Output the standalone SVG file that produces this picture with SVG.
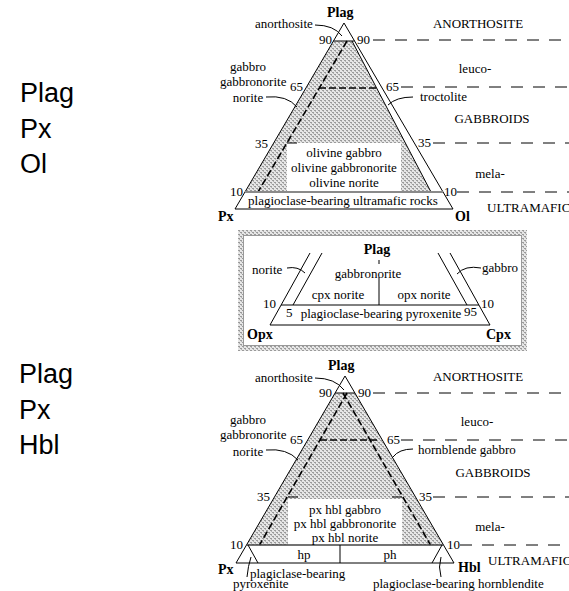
<svg xmlns="http://www.w3.org/2000/svg" width="569" height="591" viewBox="0 0 569 591">
<defs>
<pattern id="hatch" patternUnits="userSpaceOnUse" width="4" height="4">
<rect width="4" height="4" fill="#e6e6e6"/>
<rect x="0" y="0" width="2" height="1" fill="#9a9a9a"/>
<rect x="2" y="2" width="2" height="1" fill="#9a9a9a"/>
<rect x="1" y="1" width="1" height="1" fill="#b4b4b4"/>
<rect x="3" y="3" width="1" height="1" fill="#b4b4b4"/>
</pattern>
<style>
.t{font-family:"Liberation Serif","Times New Roman",serif;font-size:13px;fill:#000}
.b{font-family:"Liberation Serif","Times New Roman",serif;font-size:14px;font-weight:bold;fill:#000}
.s{font-family:"Liberation Sans",Arial,sans-serif;font-size:27px;fill:#000}
.m{text-anchor:middle}
.e{text-anchor:end}
.ln{stroke:#000;stroke-width:1;fill:none}
.dr{stroke:#000;stroke-width:1;fill:none;stroke-dasharray:12 10}
.di{stroke:#000;stroke-width:1.6;fill:none;stroke-dasharray:7 3}
.gl{stroke:#8a8a8a;stroke-width:2;fill:none}
</style>
</defs>
<rect width="569" height="591" fill="#fff"/>

<g id="labels-left">
<text class="s" x="20" y="102">Plag</text>
<text class="s" x="20" y="138">Px</text>
<text class="s" x="20" y="173">Ol</text>
<text class="s" x="19" y="383">Plag</text>
<text class="s" x="19" y="419">Px</text>
<text class="s" x="19" y="454">Hbl</text>
</g>

<g id="diagram-plag-px-ol">
<path d="M333.5,41 L352,41 L431,192 L245,192 Z" fill="url(#hatch)"/>
<rect x="287" y="143" width="114" height="49" fill="#fff"/>
<path class="ln" d="M344,23 L235,209 L453,209 Z"/>
<line class="ln" x1="333.5" y1="41" x2="354.5" y2="41"/>
<line class="ln" x1="352" y1="41" x2="431" y2="192"/>
<line class="di" x1="347" y1="41" x2="258" y2="192"/>
<line class="di" x1="319" y1="88" x2="377" y2="88"/>
<line class="ln" x1="287" y1="143" x2="297" y2="143"/>
<line class="gl" x1="245" y1="192" x2="443" y2="192"/>
<line class="dr" x1="373" y1="40" x2="569" y2="40"/>
<line class="dr" x1="401" y1="87" x2="569" y2="87"/>
<line class="dr" x1="433" y1="143" x2="569" y2="143"/>
<line class="dr" x1="457" y1="192" x2="569" y2="192"/>
<text class="b" x="327" y="17">Plag</text>
<text class="t" x="255" y="28">anorthosite</text>
<text class="t e" x="332" y="44">90</text>
<text class="t" x="357" y="44">90</text>
<text class="t m" x="248" y="71">gabbro</text>
<text class="t" x="220" y="86">gabbronorite</text>
<text class="t" x="290" y="91">65</text>
<text class="t m" x="248" y="102">norite</text>
<text class="t e" x="268" y="148">35</text>
<text class="t e" x="243" y="196">10</text>
<text class="t m" x="344" y="157">olivine gabbro</text>
<text class="t m" x="344" y="172">olivine gabbronorite</text>
<text class="t m" x="344" y="187">olivine norite</text>
<text class="t m" x="343" y="205">plagioclase-bearing ultramafic rocks</text>
<text class="b" x="218" y="221">Px</text>
<text class="b" x="455" y="221">Ol</text>
<text class="t" x="386" y="91">65</text>
<text class="t" x="418" y="147">35</text>
<text class="t" x="444" y="196">10</text>
<text class="t m" x="478" y="28">ANORTHOSITE</text>
<text class="t m" x="475" y="73">leuco-</text>
<text class="t" x="420" y="101">troctolite</text>
<text class="t m" x="492" y="123">GABBROIDS</text>
<text class="t m" x="490" y="178">mela-</text>
<text class="t" x="487" y="212">ULTRAMAFIC</text>
</g>

<g id="inset-plag-opx-cpx">
<rect x="240.5" y="232.5" width="284" height="116" fill="none" stroke="url(#hatch)" stroke-width="5"/>
<rect x="243.5" y="235.5" width="278" height="110" fill="none" stroke="#999" stroke-width="1"/>
<line class="ln" x1="270" y1="325" x2="490" y2="325"/>
<line class="ln" x1="270" y1="325" x2="310" y2="253"/>
<line class="ln" x1="293" y1="305" x2="322" y2="253"/>
<line class="ln" x1="490" y1="325" x2="450" y2="253"/>
<line class="ln" x1="467" y1="305" x2="438" y2="253"/>
<line class="ln" x1="281" y1="305" x2="479" y2="305"/>
<line class="ln" x1="379" y1="277" x2="379" y2="305"/>
<line class="ln" x1="379" y1="260" x2="379" y2="264"/>
<text class="b m" x="377" y="254">Plag</text>
<text class="t m" x="368" y="278">gabbronorite</text>
<text class="t m" x="338" y="299">cpx norite</text>
<text class="t m" x="424" y="299">opx norite</text>
<text class="t m" x="381" y="318">plagioclase-bearing pyroxenite</text>
<text class="t" x="252" y="274">norite</text>
<text class="t" x="482" y="272">gabbro</text>
<text class="t e" x="276" y="308">10</text>
<text class="t" x="286" y="317">5</text>
<text class="t" x="464" y="316">95</text>
<text class="t" x="481" y="308">10</text>
<text class="b" x="247" y="339">Opx</text>
<text class="b" x="486" y="339">Cpx</text>
</g>

<g id="diagram-plag-px-hbl">
<path d="M335,393 L355,393 L443.5,545 L246.5,545 Z" fill="url(#hatch)"/>
<rect x="288" y="499" width="114" height="46" fill="#fff"/>
<path class="ln" d="M345,376 L236,563 L454,563 Z"/>
<line class="ln" x1="335" y1="393" x2="355" y2="393"/>
<line class="di" x1="347" y1="393" x2="259.5" y2="545"/>
<line class="di" x1="343" y1="393" x2="430.5" y2="545"/>
<line class="di" x1="320" y1="440" x2="380" y2="440"/>
<line class="ln" x1="288" y1="497" x2="298" y2="497"/>
<line class="ln" x1="392" y1="497" x2="402" y2="497"/>
<line stroke="#444" stroke-width="1.5" x1="246.5" y1="545" x2="443.5" y2="545"/>
<line class="ln" x1="340" y1="545" x2="340" y2="563"/>
<line class="ln" x1="248" y1="545" x2="258" y2="563"/>
<line class="ln" x1="442" y1="545" x2="432" y2="563"/>
<line class="dr" x1="373" y1="393" x2="569" y2="393"/>
<line class="dr" x1="401" y1="440" x2="569" y2="440"/>
<line class="dr" x1="433" y1="497" x2="569" y2="497"/>
<line class="dr" x1="460" y1="545" x2="569" y2="545"/>
<text class="b" x="328" y="370">Plag</text>
<text class="t" x="255" y="382">anorthosite</text>
<text class="t e" x="332" y="397">90</text>
<text class="t" x="358" y="397">90</text>
<text class="t m" x="248" y="424">gabbro</text>
<text class="t" x="220" y="439">gabbronorite</text>
<text class="t" x="290" y="444">65</text>
<text class="t m" x="248" y="456">norite</text>
<text class="t e" x="270" y="501">35</text>
<text class="t e" x="243" y="549">10</text>
<text class="t m" x="345" y="514">px hbl gabbro</text>
<text class="t m" x="345" y="528">px hbl gabbronorite</text>
<text class="t m" x="345" y="542">px hbl norite</text>
<text class="t m" x="304" y="559">hp</text>
<text class="t m" x="390" y="559">ph</text>
<text class="b" x="218" y="574">Px</text>
<text class="b" x="458" y="572">Hbl</text>
<text class="t" x="250" y="578">plagiclase-bearing</text>
<text class="t" x="233" y="588">pyroxenite</text>
<text class="t" x="373" y="588">plagioclase-bearing hornblendite</text>
<text class="t" x="387" y="444">65</text>
<text class="t" x="419" y="501">35</text>
<text class="t" x="447" y="549">10</text>
<text class="t m" x="478" y="381">ANORTHOSITE</text>
<text class="t m" x="477" y="426">leuco-</text>
<text class="t" x="418" y="454">hornblende gabbro</text>
<text class="t m" x="493" y="477">GABBROIDS</text>
<text class="t m" x="490" y="531">mela-</text>
<text class="t" x="488" y="565">ULTRAMAFIC</text>
</g>

<g id="connectors">
<path class="ln" d="M315,25 Q334,25 342,36"/>
<path class="ln" d="M266,97 Q287,95 297,107"/>
<path class="ln" d="M413,97 Q396,97 388,105"/>
<path class="ln" d="M287,268 Q298,266 305,273"/>
<path class="ln" d="M481,268 Q465,265 457,274"/>
<path class="ln" d="M315,378 Q335,378 344,390"/>
<path class="ln" d="M266,450 Q287,448 298,460"/>
<path class="ln" d="M413,449 Q399,449 393,457"/>
<path class="ln" d="M247,577 Q248,566 251,557"/>
<path class="ln" d="M441,577 Q438,567 441,557"/>
</g>
</svg>
